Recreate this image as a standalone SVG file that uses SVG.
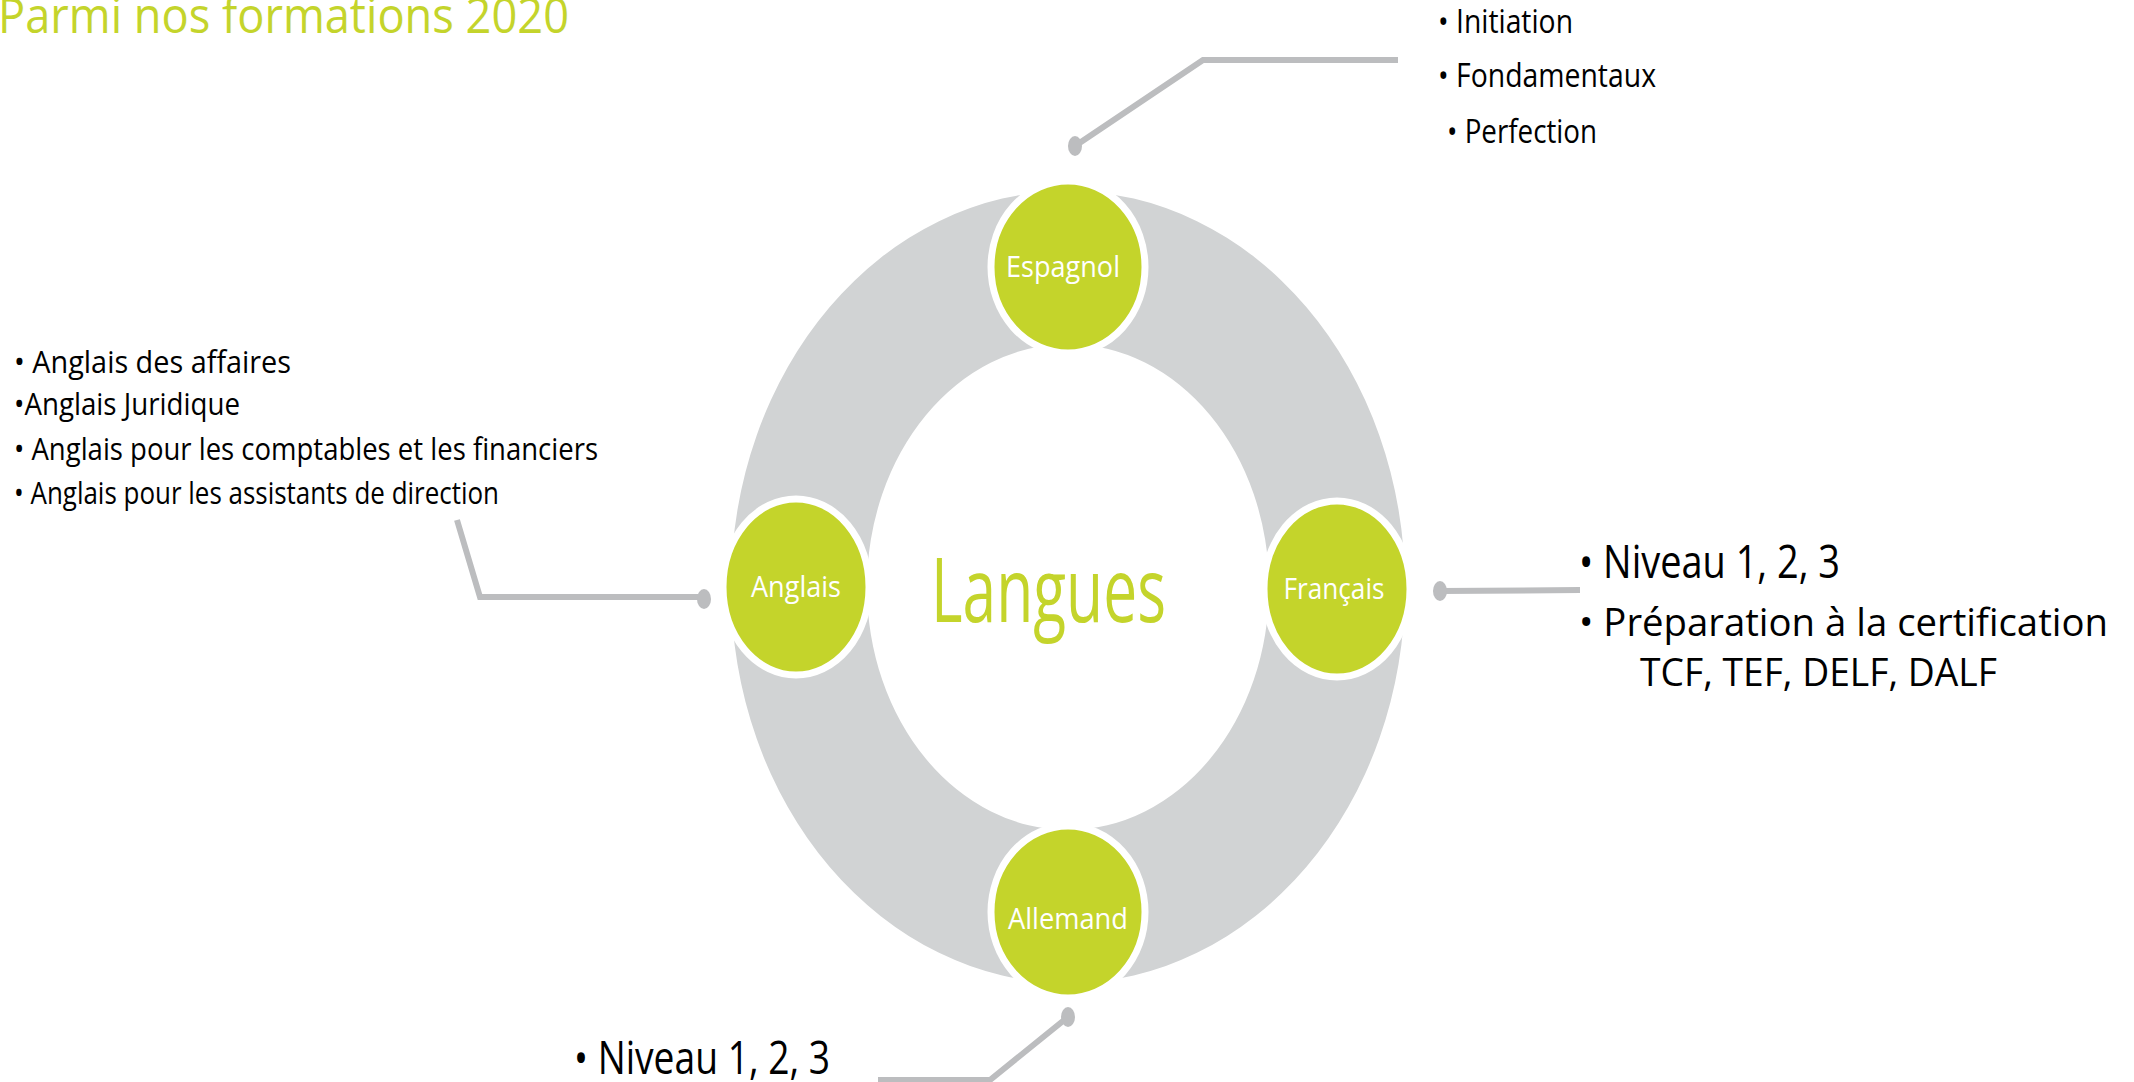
<svg xmlns="http://www.w3.org/2000/svg" width="2134" height="1082" viewBox="0 0 2134 1082">
<style>
.t{font-family:"Open Sans","Liberation Sans",sans-serif;fill:#000}
.g{font-family:"Open Sans","Liberation Sans",sans-serif;fill:#C4D42B}
.nl{font-family:"Open Sans","Liberation Sans",sans-serif;fill:#fff;font-size:30px;text-anchor:middle}
.node{fill:#C4D42B;stroke:#fff;stroke-width:7}
.conn{fill:none;stroke:#BCBDBF;stroke-width:6}
.dot{fill:#BCBDBF}
</style>
<rect width="2134" height="1082" fill="#fff"/>
<text class="g" x="-2" y="33" font-size="50" textLength="571" lengthAdjust="spacingAndGlyphs">Parmi nos formations 2020</text>
<g id="ring">
<path d="M731,587 A337,396 0 1,0 1405,587 A337,396 0 1,0 731,587 Z M867,587 A201,243 0 1,1 1269,587 A201,243 0 1,1 867,587 Z" fill="#D1D3D4" fill-rule="evenodd"/>
</g>
<text class="g" x="931" y="622" font-size="90" textLength="235" lengthAdjust="spacingAndGlyphs">Langues</text>
<g id="connectors">
<path class="conn" d="M1075,146 L1203,60 L1398,60"/>
<ellipse class="dot" cx="1075" cy="146" rx="7" ry="10"/>
<path class="conn" d="M457,520 L480,597 L704,597"/>
<ellipse class="dot" cx="704" cy="599" rx="7" ry="10"/>
<path class="conn" d="M1440,591 L1580,590"/>
<ellipse class="dot" cx="1440" cy="591" rx="7" ry="10"/>
<path class="conn" d="M1068,1017 L990,1080 L878,1080"/>
<ellipse class="dot" cx="1068" cy="1017" rx="7" ry="10"/>
</g>
<g id="espagnol">
<ellipse class="node" cx="1068" cy="267" rx="77" ry="86"/>
<text class="nl" x="1063" y="277" textLength="114" lengthAdjust="spacingAndGlyphs">Espagnol</text>
</g>
<g id="anglais">
<ellipse class="node" cx="796" cy="587" rx="73" ry="88"/>
<text class="nl" x="796" y="597" textLength="90" lengthAdjust="spacingAndGlyphs">Anglais</text>
</g>
<g id="francais">
<ellipse class="node" cx="1337" cy="589" rx="73" ry="88"/>
<text class="nl" x="1334" y="599" textLength="101" lengthAdjust="spacingAndGlyphs">Français</text>
</g>
<g id="allemand">
<ellipse class="node" cx="1068" cy="912" rx="77" ry="86"/>
<text class="nl" x="1068" y="929" textLength="120" lengthAdjust="spacingAndGlyphs">Allemand</text>
</g>
<g id="espagnol-list">
<text class="t" x="1438" y="33" font-size="33" textLength="135" lengthAdjust="spacingAndGlyphs">• Initiation</text>
<text class="t" x="1438" y="87" font-size="33" textLength="218" lengthAdjust="spacingAndGlyphs">• Fondamentaux</text>
<text class="t" x="1447" y="143" font-size="33" textLength="150" lengthAdjust="spacingAndGlyphs">• Perfection</text>
</g>
<g id="anglais-list">
<text class="t" x="14" y="373" font-size="31" textLength="277" lengthAdjust="spacingAndGlyphs">• Anglais des affaires</text>
<text class="t" x="14" y="415" font-size="31" textLength="226" lengthAdjust="spacingAndGlyphs">•Anglais Juridique</text>
<text class="t" x="14" y="460" font-size="31" textLength="584" lengthAdjust="spacingAndGlyphs">• Anglais pour les comptables et les financiers</text>
<text class="t" x="14" y="504" font-size="31" textLength="485" lengthAdjust="spacingAndGlyphs">• Anglais pour les assistants de direction</text>
</g>
<g id="francais-list">
<text class="t" x="1579" y="578" font-size="46" textLength="261" lengthAdjust="spacingAndGlyphs">• Niveau 1, 2, 3</text>
<text class="t" x="1579" y="636" font-size="38" textLength="529" lengthAdjust="spacingAndGlyphs">• Préparation à la certification</text>
<text class="t" x="1640" y="686" font-size="38" textLength="357" lengthAdjust="spacingAndGlyphs">TCF, TEF, DELF, DALF</text>
</g>
<g id="allemand-list">
<text class="t" x="574" y="1074" font-size="46" textLength="256" lengthAdjust="spacingAndGlyphs">• Niveau 1, 2, 3</text>
</g>
</svg>
